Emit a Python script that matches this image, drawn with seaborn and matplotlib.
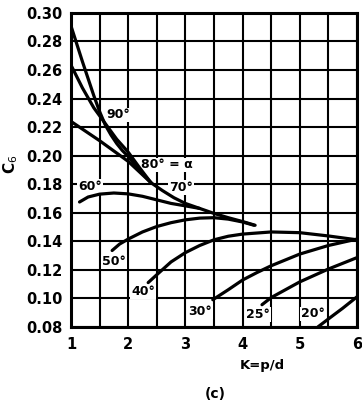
import numpy as np
import pandas as pd
import matplotlib
matplotlib.use('Agg')
import matplotlib.pyplot as plt
import seaborn as sns

# ------------------------------------------------------------
# curve points: K = p/d  vs  C6
# ------------------------------------------------------------
k_90 = [1.0, 1.2, 1.4, 1.5, 1.6, 1.7, 1.8, 1.9, 2.0, 2.2, 2.4]
c_90 = [0.291, 0.266, 0.242, 0.231, 0.2215, 0.2145, 0.2085, 0.2035, 0.1995, 0.1895, 0.181]

k_80 = [1.0, 1.2, 1.4, 1.6, 1.8, 2.0, 2.2, 2.4]
c_80 = [0.2635, 0.2475, 0.2335, 0.2225, 0.2115, 0.2025, 0.1915, 0.181]

k_70 = [1.0, 1.5, 2.0, 2.4, 2.6, 2.8, 3.0, 3.25, 3.5, 3.75, 4.0, 4.22]
c_70 = [0.224, 0.2105, 0.196, 0.181, 0.1755, 0.1705, 0.1665, 0.163, 0.1595, 0.1565, 0.1538, 0.1512]

k_60 = [1.15, 1.3, 1.5, 1.75, 2.0, 2.25, 2.5, 2.75, 3.0, 3.25]
c_60 = [0.1675, 0.171, 0.173, 0.1738, 0.1732, 0.1715, 0.169, 0.1665, 0.1648, 0.163]

k_50 = [1.72, 1.85, 2.0, 2.25, 2.5, 2.75, 3.0, 3.25, 3.5, 3.75, 4.0, 4.2]
c_50 = [0.1335, 0.138, 0.1415, 0.1465, 0.1503, 0.153, 0.155, 0.1562, 0.1565, 0.1555, 0.1535, 0.1512]

k_40 = [2.35, 2.5, 2.75, 3.0, 3.25, 3.5, 3.75, 4.0, 4.5, 5.0, 5.5, 6.0]
c_40 = [0.111, 0.1165, 0.1255, 0.132, 0.137, 0.141, 0.1435, 0.145, 0.1465, 0.146, 0.1437, 0.141]

k_30 = [3.48, 3.75, 4.0, 4.25, 4.5, 5.0, 5.5, 6.0]
c_30 = [0.099, 0.106, 0.1128, 0.118, 0.1228, 0.131, 0.137, 0.1415]

k_25 = [4.34, 4.5, 4.75, 5.0, 5.5, 6.0]
c_25 = [0.0955, 0.1005, 0.106, 0.1115, 0.1205, 0.1285]

k_20 = [5.32, 5.5, 5.75, 6.0]
c_20 = [0.080, 0.0855, 0.093, 0.101]

angles = ['90', '80', '70', '60', '50', '40', '30', '25', '20']
curve_k = [k_90, k_80, k_70, k_60, k_50, k_40, k_30, k_25, k_20]
curve_c = [c_90, c_80, c_70, c_60, c_50, c_40, c_30, c_25, c_20]

# label texts and where they sit on the chart
label_text = ['90°', '80° = α', '70°', '60°', '50°', '40°', '30°', '25°', '20°']
label_k = [1.82, 2.68, 2.92, 1.33, 1.75, 2.26, 3.26, 4.27, 5.23]
label_c = [0.2285, 0.1935, 0.1774, 0.1785, 0.1255, 0.1045, 0.0910, 0.0884, 0.0890]

x_ticks = [1, 2, 3, 4, 5, 6]
y_ticks = [0.08, 0.10, 0.12, 0.14, 0.16, 0.18, 0.20, 0.22, 0.24, 0.26, 0.28, 0.30]

# long table for seaborn
rows = []
for ang, ks, cs in zip(angles, curve_k, curve_c):
    for k, c in zip(ks, cs):
        rows.append({'angle': ang, 'K': k, 'C': c})
df = pd.DataFrame(rows)

sns.set_style('white')
plt.rcParams['font.family'] = ['DejaVu Sans']
plt.rcParams['text.color'] = 'black'
plt.rcParams['xtick.color'] = 'black'
plt.rcParams['ytick.color'] = 'black'

fig = plt.figure(figsize=(3.62, 4.05), dpi=100)
ax = fig.add_axes([0.196, 0.193, 0.790, 0.775])

sns.lineplot(data=df, x='K', y='C', units='angle', estimator=None, sort=False,
             color='black', linewidth=2.3, ax=ax, legend=False, zorder=3)

ax.set_xlim(1, 6)
ax.set_ylim(0.08, 0.30)
ax.set_xticks(x_ticks)
ax.set_xticks(np.arange(1.5, 6, 1.0), minor=True)
ax.set_yticks(y_ticks)
ax.set_xticklabels([str(t) for t in x_ticks], fontsize=10.5, fontweight='bold', color='black')
ax.set_yticklabels([f'{t:.2f}' for t in y_ticks], fontsize=10.5, fontweight='bold', color='black')
ax.tick_params(axis='both', which='both', length=0)
ax.tick_params(axis='y', pad=6)
ax.tick_params(axis='x', pad=7)

ax.grid(True, which='both', color='black', linewidth=1.5)
ax.set_axisbelow(True)
for sp in ax.spines.values():
    sp.set_visible(True)
    sp.set_color('black')
    sp.set_linewidth(2.2)

ax.set_xlabel('')
ax.set_ylabel('')

# labels knock out the grid but sit under the curves
for txt, k, c in zip(label_text, label_k, label_c):
    ax.text(k, c, txt, ha='center', va='center', fontsize=9, fontweight='bold',
            color='black', bbox=dict(facecolor='white', edgecolor='none', pad=0.6),
            zorder=2)

fig.text(11 / 362, 1 - 164 / 405, r'C$_6$', rotation=90, ha='center', va='center',
         fontsize=11, fontweight='bold', color='black')
fig.text(262 / 362, 1 - 365 / 405, 'K=p/d', ha='center', va='center',
         fontsize=9.5, fontweight='bold', color='black')
fig.text(215 / 362, 1 - 394 / 405, '(c)', ha='center', va='center',
         fontsize=10, fontweight='bold', color='black')

fig.savefig('out.png', dpi=100)
plt.close(fig)
